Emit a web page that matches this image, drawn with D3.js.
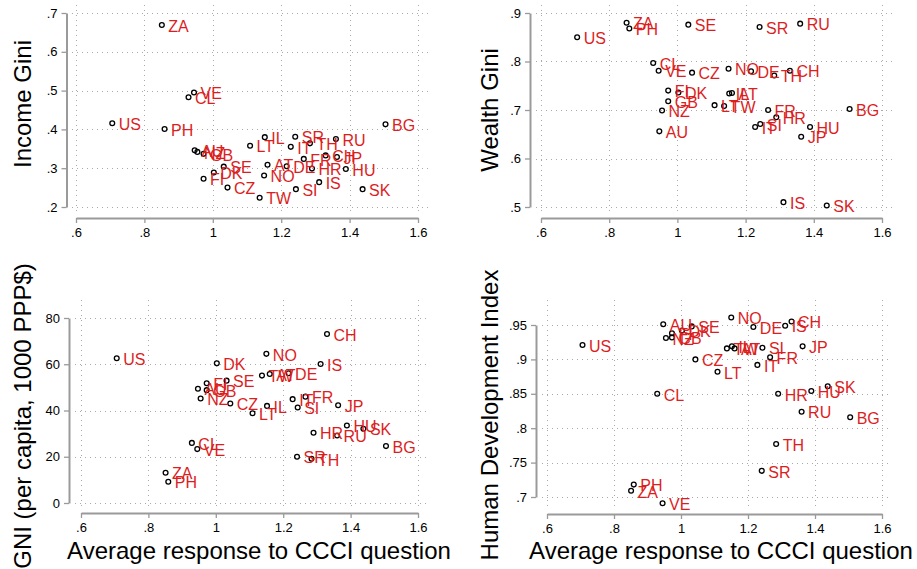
<!DOCTYPE html>
<html>
<head>
<meta charset="utf-8">
<script src="https://cdn.jsdelivr.net/npm/d3@7"></script>
<style>
  body { margin: 0; background: #fff; }
  svg { display: block; font-family: "Liberation Sans", Arial, Helvetica, sans-serif; }
</style>
</head>
<body>
<div id="chart"></div>
<script>
// country codes, in the same order in every array below
const countries = ["US","ZA","PH","CL","VE","AU","NZ","GB","FI","DK","SE","CZ","LT","TW","NO","IL","AT",
                   "DE","IT","SR","SI","FR","TH","HR","IS","CH","RU","JP","HU","SK","BG"];

// average response to CCCI question (x, shared by all panels)
const ccci = [0.706,0.851,0.859,0.929,0.945,0.947,0.955,0.973,0.973,1.003,1.032,1.043,1.109,1.137,1.150,1.152,1.160,
              1.216,1.228,1.241,1.243,1.266,1.284,1.290,1.311,1.330,1.360,1.363,1.389,1.438,1.505];

const incomeGini = [0.416,0.669,0.401,0.483,0.495,0.346,0.342,0.337,0.273,0.289,0.304,0.250,0.358,0.224,0.281,0.380,0.309,
                    0.305,0.355,0.381,0.246,0.324,0.364,0.299,0.264,0.333,0.375,0.329,0.298,0.246,0.413];

const wealthGini = [0.850,0.880,0.868,0.797,0.781,0.656,0.699,0.718,0.740,0.736,0.876,0.777,0.710,0.708,0.785,0.734,0.735,
                    0.780,0.665,0.871,0.671,0.700,0.771,0.685,0.510,0.781,0.878,0.645,0.665,0.503,0.702];

// GNI per capita, 1000 PPP$
const gni = [62.6,13.1,9.2,26.0,23.3,49.4,45.2,48.8,51.8,60.4,52.9,43.0,38.8,55.1,64.5,42.0,55.8,
             56.1,44.9,20.0,41.3,46.0,19.1,30.4,60.1,73.1,29.2,42.3,33.5,32.1,24.6];

const hdi = [0.921,0.709,0.718,0.850,0.691,0.951,0.931,0.932,0.938,0.942,0.948,0.900,0.882,0.916,0.961,0.919,0.916,
             0.947,0.892,0.738,0.917,0.903,0.777,0.850,0.949,0.955,0.824,0.919,0.854,0.861,0.816];

const xTicks = [0.6, 0.8, 1, 1.2, 1.4, 1.6];
const incomeTicks = [0.2, 0.3, 0.4, 0.5, 0.6, 0.7];
const wealthTicks = [0.5, 0.6, 0.7, 0.8, 0.9];
const gniTicks = [0, 20, 40, 60, 80];
const hdiTicks = [0.7, 0.75, 0.8, 0.85, 0.9, 0.95];

const width = 917, height = 569;
const axisColor = "#9a9a9a";
const labelColor = "#dc1e1e";

const svg = d3.select("#chart").append("svg")
    .attr("width", width)
    .attr("height", height);

const tickFmt = d => d3.format("~g")(d).replace(/^0\./, ".");

function drawPanel(p) {
    const x = d3.scaleLinear().domain([0.6, 1.6]).range([p.x0, p.x1]);
    const y = d3.scaleLinear().domain(d3.extent(p.yTicks)).range([p.y0, p.y1]);
    const g = svg.append("g");

    // grid
    const grid = g.append("g")
        .attr("stroke", "#aaa")
        .attr("stroke-width", 1)
        .attr("stroke-dasharray", "1,4");
    grid.selectAll("line.h")
        .data(p.yTicks)
        .join("line")
        .attr("class", "h")
        .attr("x1", p.gl).attr("x2", p.gr)
        .attr("y1", d => Math.round(y(d)) + 0.5)
        .attr("y2", d => Math.round(y(d)) + 0.5);
    grid.selectAll("line.v")
        .data(xTicks)
        .join("line")
        .attr("class", "v")
        .attr("x1", d => Math.round(x(d)) + 0.5)
        .attr("x2", d => Math.round(x(d)) + 0.5)
        .attr("y1", p.gt).attr("y2", p.gb);

    // axes
    const xAxis = g.append("g")
        .attr("transform", `translate(0,${p.xAxisY})`)
        .call(d3.axisBottom(x).tickValues(xTicks).tickFormat(tickFmt).tickSize(5).tickSizeOuter(0));
    const yAxis = g.append("g")
        .attr("transform", `translate(${p.yAxisX},0)`)
        .call(d3.axisLeft(y).tickValues(p.yTicks).tickFormat(tickFmt).tickSize(5).tickSizeOuter(0));
    [xAxis, yAxis].forEach(a => {
        a.select(".domain").attr("stroke", axisColor).attr("stroke-width", 2);
        a.selectAll(".tick line").attr("stroke", axisColor).attr("stroke-width", 1.3);
        a.selectAll(".tick text")
            .attr("fill", "#000")
            .attr("font-size", 13)
            .attr("font-family", "Liberation Sans, Arial, sans-serif");
    });
    xAxis.selectAll(".tick text").attr("dy", "0.85em");
    yAxis.selectAll(".tick text").attr("dx", "-1px");

    // points
    const data = countries.map((c, i) => ({name: c, x: ccci[i], y: p.values[i]}));
    g.append("g")
        .selectAll("circle")
        .data(data)
        .join("circle")
        .attr("cx", d => x(d.x))
        .attr("cy", d => y(d.y))
        .attr("r", 2.4)
        .attr("fill", "none")
        .attr("stroke", "#000")
        .attr("stroke-width", 1.3);

    g.append("g")
        .attr("font-size", 16)
        .attr("fill", labelColor)
        .selectAll("text")
        .data(data)
        .join("text")
        .attr("x", d => x(d.x) + 6.5)
        .attr("y", d => y(d.y))
        .attr("dy", "0.42em")
        .text(d => d.name);

    // y title
    svg.append("text")
        .attr("transform", `translate(${p.titleX},${p.titleY}) rotate(-90)`)
        .attr("text-anchor", "middle")
        .attr("font-size", 24)
        .attr("fill", "#000")
        .text(p.title);

    if (p.xTitle) {
        svg.append("text")
            .attr("x", p.xTitleX)
            .attr("y", 559)
            .attr("text-anchor", "middle")
            .attr("font-size", 24)
            .attr("fill", "#000")
            .text(p.xTitle);
    }
}

const xTitle = "Average response to CCCI question";

drawPanel({values: incomeGini, yTicks: incomeTicks, title: "Income Gini",
    x0: 76, x1: 418, y0: 207, y1: 13, yAxisX: 66.5, xAxisY: 218,
    gl: 72, gr: 432, gt: 5, gb: 212, titleX: 31, titleY: 104});

drawPanel({values: wealthGini, yTicks: wealthTicks, title: "Wealth Gini",
    x0: 541, x1: 882, y0: 207, y1: 13, yAxisX: 530, xAxisY: 218,
    gl: 536, gr: 894, gt: 5, gb: 212, titleX: 498, titleY: 110});

drawPanel({values: gni, yTicks: gniTicks, title: "GNI (per capita, 1000 PPP$)",
    x0: 81, x1: 418, y0: 503, y1: 318, yAxisX: 69, xAxisY: 513,
    gl: 75, gr: 430, gt: 300, gb: 508, titleX: 31, titleY: 416, xTitle: xTitle, xTitleX: 259});

drawPanel({values: hdi, yTicks: hdiTicks, title: "Human Development Index",
    x0: 547, x1: 882, y0: 497, y1: 325, yAxisX: 536, xAxisY: 514,
    gl: 542, gr: 892, gt: 300, gb: 508, titleX: 498, titleY: 415, xTitle: xTitle, xTitleX: 721});
</script>
</body>
</html>
